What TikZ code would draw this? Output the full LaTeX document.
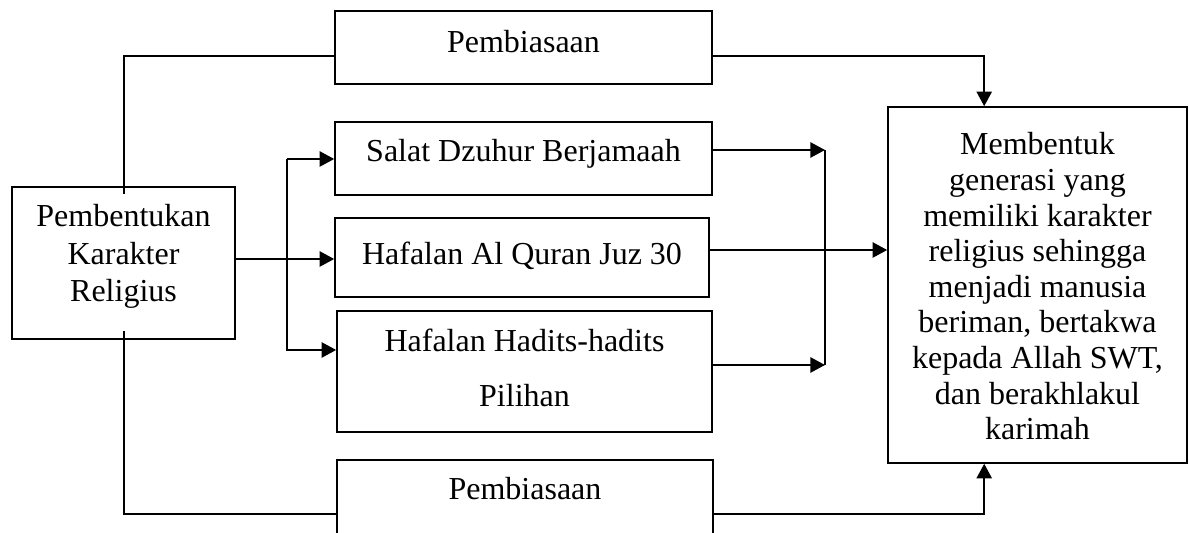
\documentclass[tikz,border=0pt]{standalone}
\usepackage{fontspec}
\setmainfont{Liberation Serif}
\usetikzlibrary{arrows.meta,calc}
% single line: baseline placed #1 below node centre
\newcommand{\bl}[2]{\raisebox{#1}[0pt][0pt]{#2}}
% several lines: first baseline raised by #1, line distance #2
\newcommand{\ml}[3]{\raisebox{#1}[0pt][0pt]{\fontsize{16}{#2}\selectfont\begin{tabular}[t]{@{}c@{}}#3\end{tabular}}}
\begin{document}
\begin{tikzpicture}[x=0.5pt,y=-0.5pt,
  box/.style={draw, line width=0.8pt, inner sep=0pt, rectangle},
  conn/.style={line width=1pt},
  arr/.style={conn, -{Triangle[length=7.3pt,width=7.6pt]}},
  font=\fontsize{16}{17.8}\selectfont]
\clip (0,0) rectangle (1189,533);
% boxes
\node[box, minimum width=188.5pt, minimum height=36.5pt] (top) at (523.5,47.5) {\bl{-2.75pt}{Pembiasaan}};
\node[box, minimum width=188.5pt, minimum height=36.5pt] (salat) at (523.5,158.5) {\bl{-1.75pt}{Salat Dzuhur Berjamaah}};
\node[box, minimum width=187pt, minimum height=39.5pt] (quran) at (522,257.5) {\bl{-3.75pt}{Hafalan Al Quran Juz 30}};
\node[box, minimum width=187.5pt, minimum height=60.5pt] (hadits) at (524.5,371.5) {\ml{9.9pt}{17.8pt}{Hafalan Hadits-hadits\\[9.7pt] Pilihan}};
\node[box, minimum width=188pt, minimum height=38pt] (bot) at (525,498) {\bl{-1pt}{Pembiasaan}};
\node[box, minimum width=111.5pt, minimum height=76pt] (left) at (123.5,263) {\ml{18pt}{18.65pt}{Pembentukan\\ Karakter\\ Religius}};
\node[box, minimum width=149.5pt, minimum height=178pt] (right) at (1037.5,285) {\ml{65pt}{17.8pt}{Membentuk\\ generasi yang\\ memiliki karakter\\ religius sehingga\\ menjadi manusia\\ beriman, bertakwa\\ kepada Allah SWT,\\ dan berakhlakul\\ karimah}};
% junction and bus points
\coordinate (ja) at (287,159);
\coordinate (busT) at (825,150);
\coordinate (busB) at (825,365);
% connectors
\draw[conn] ($(top.west)+(0,8.5)$) -| ($(left.north)+(0,8)$);
\draw[arr] ($(top.east)+(0,8.5)$) -| ($(right.north west)+(97,0)$);
\draw[arr] ($(left.east)+(0,-4)$) coordinate (lq) -- (lq -| quran.west);
\draw[arr] (ja) -- (ja -| salat.west);
\draw[arr] (ja) |- ($(hadits.west)+(0,-21.5)$);
\draw[arr] ($(salat.east)+(0,-8.5)$) -- (busT);
\draw[arr] ($(hadits.east)+(0,-6.5)$) -- (busB);
\draw[conn] (busT) -- (busB);
\draw[arr] ($(quran.east)+(0,-7.5)$) coordinate (qo) -- (qo -| right.west);
\draw[conn] ($(left.south)+(0,-9)$) |- ($(bot.west)+(0,16)$);
\draw[arr] ($(bot.east)+(0,16)$) -| ($(right.south west)+(97,0)$);
\end{tikzpicture}
\end{document}
